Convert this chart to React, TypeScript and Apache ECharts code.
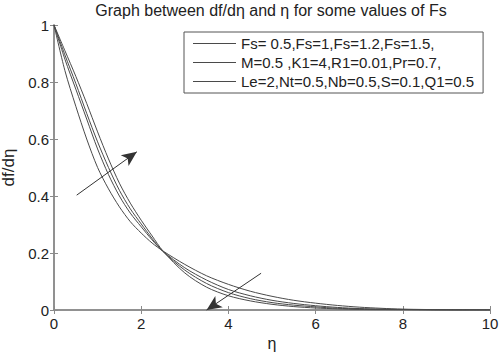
import React, { useEffect, useRef } from "react";
import * as echarts from "echarts";

const eta = [0, 0.25, 0.5, 0.75, 1, 1.25, 1.5, 1.75, 2, 2.25, 2.5, 3, 3.5, 4, 4.5, 5, 5.5, 6, 6.5, 7, 7.5, 8, 9, 10];
const curveFs05 = [1, 0.84, 0.715, 0.6, 0.5, 0.425, 0.362, 0.31, 0.27, 0.235, 0.207, 0.16, 0.12, 0.09, 0.066, 0.048, 0.034, 0.024, 0.016, 0.01, 0.006, 0.003, 0.001, 0];
const curveFs1 = [1, 0.88, 0.775, 0.67, 0.565, 0.475, 0.4, 0.34, 0.292, 0.246, 0.206, 0.148, 0.105, 0.072, 0.05, 0.034, 0.023, 0.015, 0.009, 0.005, 0.003, 0.002, 0, 0];
const curveFs12 = [1, 0.895, 0.795, 0.69, 0.59, 0.5, 0.42, 0.355, 0.302, 0.251, 0.205, 0.14, 0.093, 0.061, 0.04, 0.026, 0.017, 0.011, 0.006, 0.004, 0.002, 0.001, 0, 0];
const curveFs15 = [1, 0.91, 0.82, 0.725, 0.625, 0.53, 0.445, 0.375, 0.315, 0.26, 0.207, 0.13, 0.08, 0.05, 0.032, 0.02, 0.012, 0.007, 0.004, 0.002, 0.001, 0.001, 0, 0];

const titleText = "Graph between df/dη and η for some values of Fs";
const legendTexts = [
  "Fs= 0.5,Fs=1,Fs=1.2,Fs=1.5,",
  "M=0.5 ,K1=4,R1=0.01,Pr=0.7,",
  "Le=2,Nt=0.5,Nb=0.5,S=0.1,Q1=0.5",
];
const xTicks = [0, 2, 4, 6, 8, 10];
const yTicks = [0, 0.2, 0.4, 0.6, 0.8, 1];
const arrowUp = [[0.52, 0.403], [1.9, 0.555]];
const arrowDown = [[4.75, 0.129], [3.5, 0]];

const FONT = "'Liberation Sans', Arial, Helvetica, sans-serif";

export default function App() {
  const ref = useRef<HTMLDivElement>(null);
  useEffect(() => {
    if (!ref.current) return;
    const chart = echarts.init(ref.current, undefined, { renderer: "svg" });
    const curves = [curveFs05, curveFs1, curveFs12, curveFs15];
    const names = [legendTexts[0], legendTexts[1], legendTexts[2], "Fs=1.5"];
    const axisLine = { show: true, lineStyle: { color: "#8a8a8a", width: 1.5 } };
    const tick = { show: true, inside: true, length: 4, lineStyle: { color: "#8a8a8a" } };
    const series: any[] = curves.map((c, i) => ({
      name: names[i],
      type: "line",
      smooth: 0.3,
      showSymbol: false,
      symbol: "none",
      data: eta.map((x, j) => [x, c[j]]),
      lineStyle: { color: "#4a4a4a", width: 1 },
      itemStyle: { color: "#4a4a4a" },
    }));
    series[0].markLine = {
      silent: true,
      symbol: ["none", "arrow"],
      symbolSize: [10, 15],
      label: { show: false },
      lineStyle: { color: "#333", width: 1, type: "solid" },
      data: [
        [{ coord: arrowUp[0] }, { coord: arrowUp[1] }],
        [{ coord: arrowDown[0] }, { coord: arrowDown[1] }],
      ],
    };
    chart.setOption({
      animation: false,
      textStyle: { fontFamily: FONT },
      graphic: [
        {
          type: "text",
          x: 271,
          y: 2,
          style: {
            text: titleText,
            fontSize: 16,
            fontFamily: FONT,
            fill: "#222",
            align: "center",
            verticalAlign: "top",
          },
        },
      ],
      legend: {
        data: legendTexts,
        orient: "vertical",
        left: 184,
        top: 32,
        icon: "rect",
        itemWidth: 43,
        itemHeight: 1.2,
        itemGap: 2,
        padding: [3, 9, 3, 9],
        borderColor: "#555",
        borderWidth: 1,
        borderRadius: 0,
        backgroundColor: "#fff",
        textStyle: { fontSize: 15, color: "#222", fontFamily: FONT, lineHeight: 17 },
      },
      grid: { left: 54, right: 9, top: 25, bottom: 42, containLabel: false, outerBoundsMode: "none" },
      xAxis: [
        {
          type: "value",
          min: xTicks[0],
          max: xTicks[xTicks.length - 1],
          interval: 2,
          name: "η",
          nameLocation: "middle",
          nameGap: 24,
          nameTextStyle: { fontSize: 16, color: "#222" },
          axisLine,
          axisTick: tick,
          axisLabel: { fontSize: 15, color: "#222", margin: 6 },
          splitLine: { show: false },
        },
        {
          type: "value",
          position: "top",
          min: 0,
          max: 10,
          interval: 2,
          axisLine,
          axisTick: tick,
          axisLabel: { show: false },
          splitLine: { show: false },
        },
      ],
      yAxis: [
        {
          type: "value",
          min: yTicks[0],
          max: yTicks[yTicks.length - 1],
          interval: 0.2,
          name: "df/dη",
          nameLocation: "middle",
          nameGap: 27,
          nameTextStyle: { fontSize: 17, color: "#222" },
          axisLine,
          axisTick: tick,
          axisLabel: { fontSize: 15, color: "#222", margin: 5, formatter: (v: number) => String(+v.toFixed(1)) },
          splitLine: { show: false },
        },
        {
          type: "value",
          position: "right",
          min: 0,
          max: 1,
          interval: 0.2,
          axisLine,
          axisTick: tick,
          axisLabel: { show: false },
          splitLine: { show: false },
        },
      ],
      series,
    });
    return () => chart.dispose();
  }, []);
  return (
    <div
      ref={ref}
      style={{ position: "absolute", left: 0, top: 0, width: 499, height: 352, background: "#fff" }}
    />
  );
}
